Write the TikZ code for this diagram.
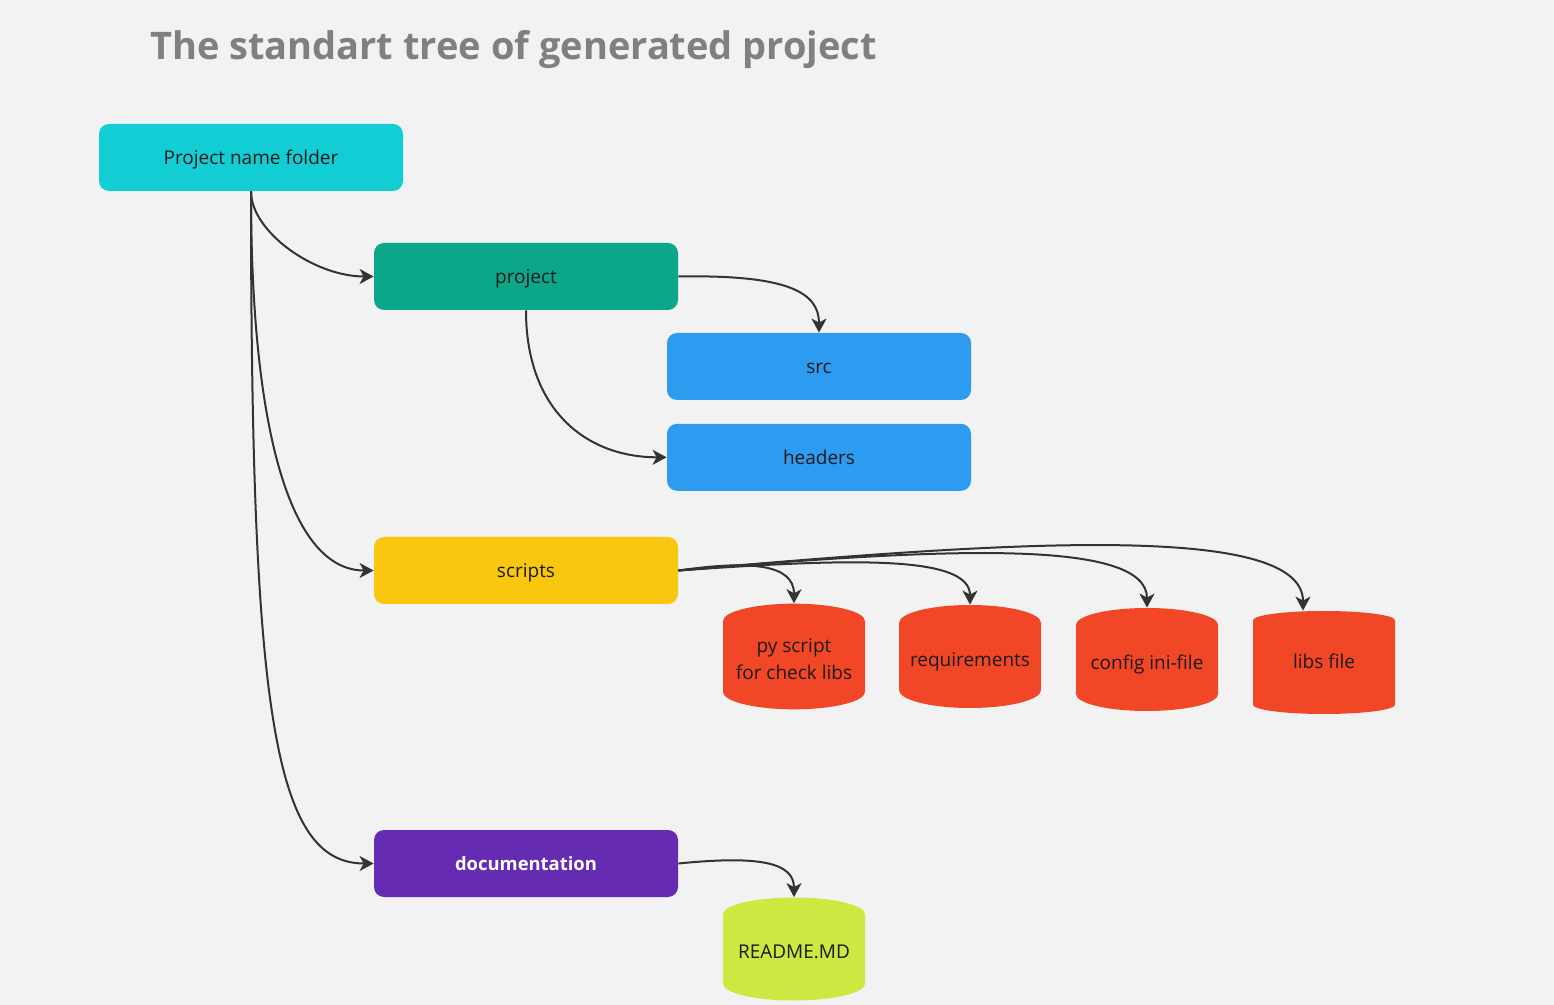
\documentclass[tikz,border=0pt]{standalone}
\usepackage{fontspec}
\setmainfont{Open Sans}
\usetikzlibrary{positioning,shapes.geometric,arrows.meta}
\definecolor{bg}{HTML}{F2F2F2}
\definecolor{line}{HTML}{333333}
\definecolor{txt}{HTML}{1A1A1A}
\definecolor{ttl}{HTML}{808080}
\definecolor{cfolder}{HTML}{12CDD4}
\definecolor{cproject}{HTML}{0CA789}
\definecolor{csrc}{HTML}{2D9BF0}
\definecolor{cscripts}{HTML}{FAC710}
\definecolor{cdocs}{HTML}{652CB3}
\definecolor{cfile}{HTML}{F24726}
\definecolor{creadme}{HTML}{CEE741}

\begin{document}
\begin{tikzpicture}[x=0.5pt, y=-0.5pt,
        >={Stealth[length=7pt, width=7.5pt, inset=2pt]},
        box/.style = {rectangle, rounded corners=5pt, minimum width=152pt, minimum height=33.5pt,
            text height=6.8pt, text depth=0pt, font=\fontsize{9.5}{11}\selectfont, text=txt},
        file/.style = {cylinder, shape border rotate=90, aspect=0.3, minimum width=71pt,
            minimum height=51.5pt, inner sep=0pt, align=center, anchor=shape center,
            text depth=6pt, font=\fontsize{9.5}{13.5}\selectfont, text=txt, fill=cfile},
        link/.style = {draw=line, line width=1pt, ->}
        ]
        \fill[bg] (0,0) rectangle (1554,1005);
        \useasboundingbox (0,0) rectangle (1554,1005);
        \node[anchor=west, text=ttl, font=\fontsize{19}{22}\selectfont\bfseries] (title) at (143,50) {The standart tree of generated project};
        % folders
        \node[box, fill=cfolder] (folder) at (251,157.5) {Project name folder};
        \node[box, fill=cproject] (project) at (526,276.5) {project};
        \node[box, fill=csrc] (src) at (819,366.5) {src};
        \node[box, fill=csrc, below=11.5pt of src] (headers) {headers};
        \node[box, fill=cscripts] (scripts) at (526,570.5) {scripts};
        \node[box, fill=cdocs, text=white, font=\fontsize{9.2}{11}\selectfont\bfseries] (docs) at (526,863.5) {documentation};
        % files
        \node[file] (check) at (794,656.5) {py script\\for check libs};
        \node[file] (req) at (970,656.5) {requirements};
        \node[file] (config) at (1147,659.5) {config ini-file};
        \node[file] (libs) at (1324,662.5) {libs file};
        \node[file, fill=creadme] (readme) at (794,949) {README.MD};
        % links
        \draw[link] (folder.south) .. controls +(0,40) and +(-60,0) .. (project.west);
        \draw[link] (folder.south) .. controls +(0,250) and +(-80,0) .. (scripts.west);
        \draw[link] (folder.south) .. controls +(0,520) and +(-100,0) .. (docs.west);
        \draw[link] (project.east) .. controls +(110,-2) and +(0,-40) .. (src.north);
        \draw[link] (project.south) .. controls +(0,100) and +(-80,0) .. (headers.west);
        \draw[link] (scripts.east) .. controls +(70,-10) and +(0,-40) .. (check.top);
        \draw[link] (scripts.east) .. controls +(170,-12) and +(0,-50) .. (req.top);
        \draw[link] (scripts.east) .. controls +(260,-22) and +(0,-70) .. (config.top);
        \draw[link] (scripts.east) .. controls +(320,-28) and +(0,-90) .. ([xshift=-10.5pt]libs.top);
        \draw[link] (docs.east) .. controls +(80,-8) and +(0,-35) .. (readme.top);
\end{tikzpicture}
\end{document}
